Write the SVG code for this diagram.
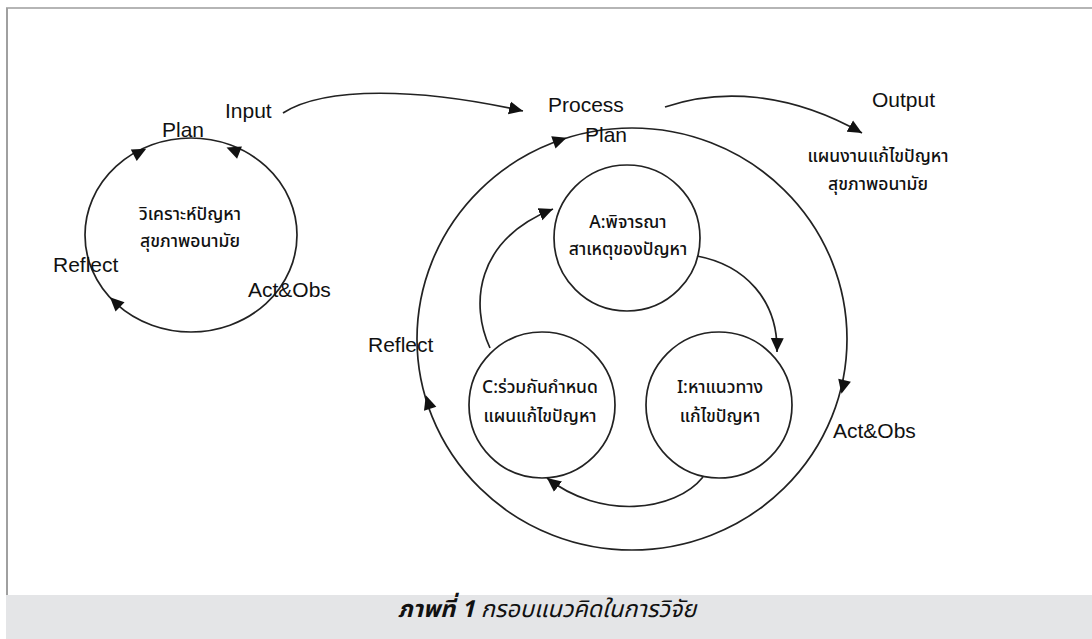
<svg xmlns="http://www.w3.org/2000/svg" xmlns:xlink="http://www.w3.org/1999/xlink" width="1092" height="639" viewBox="0 0 1092 639">
<style>
.lbl{font-family:"Liberation Sans",Arial,sans-serif;font-size:21px;fill:#111}
.th{font-family:"Noto Sans Thai","Noto Sans","DejaVu Sans",sans-serif;font-size:17.5px;font-weight:500;fill:#111;text-anchor:middle}
.ln{fill:none;stroke:#222;stroke-width:1.7}
.cap{font-family:"Noto Sans Thai","Noto Sans","DejaVu Sans",sans-serif;font-size:23.5px;fill:#111;text-anchor:middle;font-style:italic}
</style>
<defs>
<path id="ah" d="M7,0 L-7,-6.5 L-7,6.5 Z" fill="#111"/>
<marker id="m" markerWidth="16" markerHeight="14" refX="14" refY="7" orient="auto" markerUnits="userSpaceOnUse">
<path d="M14,7 L0,0.5 L0,13.5 Z" fill="#111"/>
</marker>
</defs>
<rect x="0" y="0" width="1092" height="639" fill="#fff"/>
<line x1="6" y1="8" x2="1092" y2="8" stroke="#b5b5b5" stroke-width="2"/>
<line x1="7" y1="8" x2="7" y2="595" stroke="#a0a0a0" stroke-width="2"/>
<rect x="6" y="595" width="1086" height="44" fill="#e4e5e7"/>
<text class="cap" x="547" y="617"><tspan font-weight="bold">ภาพที่ 1</tspan> กรอบแนวคิดในการวิจัย</text>

<g id="left-cycle">
<ellipse class="ln" cx="191" cy="235" rx="106" ry="97"/>
<use xlink:href="#ah" transform="translate(140,152) rotate(-27)"/>
<use xlink:href="#ah" transform="translate(233,150) rotate(202)"/>
<use xlink:href="#ah" transform="translate(115,302) rotate(-136)"/>
<text class="th" x="190" y="220">วิเคราะห์ปัญหา</text>
<text class="th" x="190" y="247">สุขภาพอนามัย</text>
<text class="lbl" x="162" y="137">Plan</text>
<text class="lbl" x="53" y="272">Reflect</text>
<text class="lbl" x="248" y="297">Act&amp;Obs</text>
</g>

<g id="big-cycle">
<ellipse class="ln" cx="632" cy="339" rx="215" ry="211"/>
<use xlink:href="#ah" transform="translate(560,140) rotate(-19)"/>
<use xlink:href="#ah" transform="translate(843,387) rotate(103)"/>
<use xlink:href="#ah" transform="translate(428,402) rotate(-108)"/>
<text class="lbl" x="585" y="142">Plan</text>
<text class="lbl" x="368" y="352">Reflect</text>
<text class="lbl" x="833" y="438">Act&amp;Obs</text>
</g>

<g id="node-A">
<circle class="ln" cx="627" cy="238" r="73"/>
<text class="th" x="628" y="228">A:พิจารณา</text>
<text class="th" x="628" y="255">สาเหตุของปัญหา</text>
</g>
<g id="node-C">
<circle class="ln" cx="542" cy="405" r="73"/>
<text class="th" x="540" y="393">C:ร่วมกันกำหนด</text>
<text class="th" x="540" y="422">แผนแก้ไขปัญหา</text>
</g>
<g id="node-I">
<circle class="ln" cx="719" cy="405" r="73"/>
<text class="th" x="720" y="393">I:หาแนวทาง</text>
<text class="th" x="720" y="422">แก้ไขปัญหา</text>
</g>

<g id="labels">
<text class="lbl" x="225" y="118">Input</text>
<text class="lbl" x="548" y="112">Process</text>
<text class="lbl" x="872" y="107">Output</text>
<text class="th" x="878" y="162">แผนงานแก้ไขปัญหา</text>
<text class="th" x="878" y="190">สุขภาพอนามัย</text>
</g>

<g id="connectors">
<path class="ln" d="M283,113 C325,86 420,88 523,111" marker-end="url(#m)"/>
<path class="ln" d="M665,107 C720,88 790,92 862,133" marker-end="url(#m)"/>
<path class="ln" d="M490,348 C470,305 475,240 553,209" marker-end="url(#m)"/>
<path class="ln" d="M697,256 C745,265 778,300 777,352" marker-end="url(#m)"/>
<path class="ln" d="M703,477 C675,512 600,520 547,478" marker-end="url(#m)"/>
</g>
</svg>
